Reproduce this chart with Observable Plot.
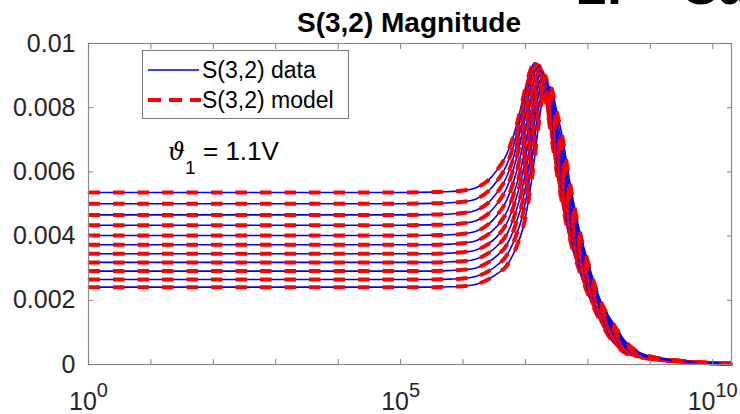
<!DOCTYPE html>
<html>
<head>
<meta charset="utf-8">
<script src="https://cdn.jsdelivr.net/npm/d3@7"></script>
<script src="https://cdn.jsdelivr.net/npm/@observablehq/plot@0.6"></script>
<style>
  html, body { margin: 0; padding: 0; background: #fff; }
  #chart svg { display: block; }
</style>
</head>
<body>
<div id="chart"></div>
<script>
// ---- data ----
const chartTitle = "S(3,2) Magnitude";
const legendLabels = ["S(3,2) data", "S(3,2) model"];
// log10 of frequency at each sample
const logFreq = [0, 4, 5, 5.5, 5.8, 6.0, 6.2, 6.4, 6.55, 6.7, 6.85, 6.95, 7.05, 7.15, 7.22, 7.3, 7.4, 7.5, 7.6, 7.7, 7.85, 8.0, 8.2, 8.4, 8.6, 8.8, 9.0, 9.3, 9.6, 10.0, 10.301];
const curve0 = [0.00536,0.00536,0.00536,0.00537,0.00539,0.00542,0.00550,0.00573,0.00607,0.00655,0.00740,0.00820,0.00900,0.00940,0.00925,0.00850,0.00730,0.00600,0.00490,0.00400,0.00300,0.00220,0.00135,0.00070,0.00036,0.00024,0.00017,0.00011,0.00007,0.00004,0.00002];
const curve1 = [0.00501,0.00501,0.00501,0.00502,0.00504,0.00507,0.00515,0.00539,0.00573,0.00622,0.00710,0.00795,0.00885,0.00935,0.00930,0.00865,0.00745,0.00620,0.00508,0.00415,0.00312,0.00230,0.00142,0.00076,0.00040,0.00026,0.00018,0.00012,0.00007,0.00004,0.00002];
const curve2 = [0.00466,0.00466,0.00466,0.00467,0.00469,0.00472,0.00480,0.00503,0.00537,0.00585,0.00675,0.00760,0.00860,0.00925,0.00930,0.00878,0.00762,0.00638,0.00526,0.00432,0.00326,0.00240,0.00148,0.00082,0.00043,0.00027,0.00019,0.00012,0.00008,0.00004,0.00002];
const curve3 = [0.00434,0.00434,0.00434,0.00435,0.00436,0.00440,0.00447,0.00469,0.00502,0.00550,0.00638,0.00722,0.00830,0.00910,0.00925,0.00885,0.00775,0.00655,0.00544,0.00448,0.00340,0.00250,0.00155,0.00088,0.00046,0.00028,0.00020,0.00013,0.00008,0.00004,0.00002];
const curve4 = [0.00402,0.00402,0.00402,0.00403,0.00404,0.00407,0.00414,0.00436,0.00466,0.00512,0.00596,0.00676,0.00786,0.00888,0.00920,0.00893,0.00788,0.00672,0.00562,0.00464,0.00352,0.00260,0.00162,0.00094,0.00049,0.00030,0.00020,0.00013,0.00008,0.00004,0.00002];
const curve5 = [0.00373,0.00373,0.00373,0.00373,0.00375,0.00378,0.00385,0.00405,0.00432,0.00475,0.00555,0.00630,0.00740,0.00860,0.00915,0.00900,0.00800,0.00690,0.00580,0.00480,0.00365,0.00270,0.00168,0.00100,0.00052,0.00031,0.00021,0.00013,0.00008,0.00004,0.00002];
const curve6 = [0.00345,0.00345,0.00345,0.00345,0.00347,0.00350,0.00356,0.00375,0.00400,0.00440,0.00517,0.00590,0.00698,0.00832,0.00900,0.00905,0.00815,0.00705,0.00598,0.00495,0.00378,0.00280,0.00174,0.00106,0.00056,0.00033,0.00022,0.00013,0.00008,0.00004,0.00002];
const curve7 = [0.00318,0.00318,0.00318,0.00318,0.00320,0.00322,0.00328,0.00346,0.00370,0.00405,0.00478,0.00548,0.00655,0.00800,0.00880,0.00900,0.00828,0.00722,0.00620,0.00512,0.00390,0.00290,0.00180,0.00112,0.00060,0.00035,0.00023,0.00014,0.00008,0.00004,0.00002];
const curve8 = [0.00291,0.00291,0.00291,0.00291,0.00293,0.00295,0.00300,0.00318,0.00340,0.00372,0.00440,0.00505,0.00610,0.00760,0.00850,0.00890,0.00843,0.00745,0.00645,0.00535,0.00405,0.00302,0.00188,0.00118,0.00064,0.00037,0.00024,0.00014,0.00009,0.00004,0.00002];
const curve9 = [0.00265,0.00265,0.00265,0.00265,0.00266,0.00268,0.00274,0.00290,0.00310,0.00340,0.00402,0.00462,0.00562,0.00708,0.00808,0.00875,0.00855,0.00768,0.00672,0.00557,0.00418,0.00312,0.00194,0.00124,0.00068,0.00038,0.00024,0.00015,0.00009,0.00004,0.00002];
const curve10 = [0.00241,0.00241,0.00241,0.00241,0.00242,0.00244,0.00249,0.00265,0.00283,0.00308,0.00364,0.00418,0.00511,0.00650,0.00760,0.00850,0.00865,0.00790,0.00700,0.00580,0.00430,0.00320,0.00200,0.00130,0.00072,0.00040,0.00025,0.00015,0.00009,0.00004,0.00002];
const dataCurves = [curve0, curve1, curve2, curve3, curve4, curve5, curve6, curve7, curve8, curve9, curve10];
const modelCurves = dataCurves; // model overlays the measured data
const xTickDecades = [0,1,2,3,4,5,6,7,8,9,10];
const xLabelDecades = [0, 5, 10];
const yTicks = [0, 0.002, 0.004, 0.006, 0.008, 0.01];
const yTickLabels = ["0", "0.002", "0.004", "0.006", "0.008", "0.01"];

// ---- tables ----
const toRows = (curves) => curves.flatMap((vals, c) => vals.map((v, j) => ({curve: c, f: 10 ** logFreq[j], v})));
const dataRows = toRows(dataCurves);
const modelRows = toRows(modelCurves);

const FONT = "'Liberation Sans', Arial, Helvetica, sans-serif";
const tickStroke = "#808080";

const lineMarks = dataCurves.flatMap((_, c) => [
  Plot.line(dataRows.filter(r => r.curve === c), {x: "f", y: "v", stroke: "#0000ff", strokeWidth: 1.6, curve: "monotone-x"}),
  Plot.line(modelRows.filter(r => r.curve === c), {x: "f", y: "v", stroke: "#ff0000", strokeWidth: 4, strokeDasharray: "11.5,13", strokeLinecap: "butt", curve: "monotone-x"})
]);

const chart = Plot.plot({
  width: 740,
  height: 414,
  marginLeft: 88,
  marginRight: 9,
  marginTop: 43,
  marginBottom: 50,
  style: {fontFamily: FONT, fontSize: "25px", color: "#262626", background: "#fff", overflow: "visible"},
  x: {type: "log", domain: [1, 2e10]},
  y: {domain: [0, 0.01]},
  marks: [
    ...lineMarks,
    Plot.frame({stroke: "#8a8a8a", strokeWidth: 1.2}),
    Plot.axisX({anchor: "bottom", ticks: xTickDecades.map(e => 10 ** e), tickSize: -5, tickFormat: () => "", label: null, stroke: tickStroke}),
    Plot.axisX({anchor: "top", ticks: xTickDecades.map(e => 10 ** e), tickSize: -5, tickFormat: () => "", label: null, stroke: tickStroke}),
    Plot.axisY({anchor: "left", ticks: yTicks, tickSize: -5, tickFormat: () => "", label: null, stroke: tickStroke}),
    Plot.axisY({anchor: "right", ticks: yTicks, tickSize: -5, tickFormat: () => "", label: null, stroke: tickStroke}),
    Plot.axisX({anchor: "bottom", ticks: xLabelDecades.map(e => 10 ** e), tickSize: 0, tickPadding: 28,
      tickFormat: d => String(Math.round(Math.log10(d))), label: null, fill: "#262626"}),
    Plot.axisY({anchor: "left", ticks: yTicks, tickSize: 0, tickPadding: 13,
      tickFormat: d => yTickLabels[yTicks.indexOf(d)], label: null, fill: "#262626"})
  ]
});
document.getElementById("chart").appendChild(chart);

const svg = d3.select(chart);

// drop the empty labels of the tick-only axes
svg.selectAll('g[aria-label$="tick label"] text')
  .filter(function () { return this.textContent === ""; })
  .remove();

// x tick labels as 10 with superscript exponent
svg.selectAll('g[aria-label="x-axis tick label"] text').each(function () {
  const exp = this.textContent;
  const t = d3.select(this);
  t.text(null);
  t.append("tspan").text("10");
  t.append("tspan").attr("dy", -13).attr("font-size", 20).text(exp);
});

const addText = (parent, x, y, str, attrs = {}) => {
  const t = parent.append("text").attr("x", x).attr("y", y)
    .attr("text-anchor", "start").attr("font-family", FONT).attr("fill", "#000").text(str);
  for (const [k, v] of Object.entries(attrs)) t.attr(k, v);
  return t;
};

// title
addText(svg, 409, 32, chartTitle, {"text-anchor": "middle", "font-weight": "bold", "font-size": 28});

// clipped slide heading at the top right
addText(svg, 577, 4, "2.", {"font-weight": "bold", "font-size": 54});
addText(svg, 680, 4, "Ca", {"font-weight": "bold", "font-size": 54});

// legend
const leg = svg.append("g");
leg.append("rect").attr("x", 142.5).attr("y", 50.5).attr("width", 206).attr("height", 68)
  .attr("fill", "#fff").attr("stroke", "#7a7a7a").attr("stroke-width", 1);
leg.append("line").attr("x1", 148).attr("x2", 199).attr("y1", 70).attr("y2", 70)
  .attr("stroke", "#0000ff").attr("stroke-width", 1.6);
leg.append("line").attr("x1", 148).attr("x2", 201).attr("y1", 100).attr("y2", 100)
  .attr("stroke", "#ff0000").attr("stroke-width", 4).attr("stroke-dasharray", "13,8");
addText(leg, 202, 78, legendLabels[0], {"font-size": 23});
addText(leg, 202, 108, legendLabels[1], {"font-size": 23});

// annotation  ϑ1 = 1.1V
const ann = svg.append("g");
addText(ann, 168, 160, "ϑ", {"font-family": "'DejaVu Serif', serif", "font-style": "italic", "font-size": 24});
addText(ann, 185, 174, "1", {"font-size": 19});
addText(ann, 203, 160, "= 1.1V", {"font-size": 26});
</script>
</body>
</html>
